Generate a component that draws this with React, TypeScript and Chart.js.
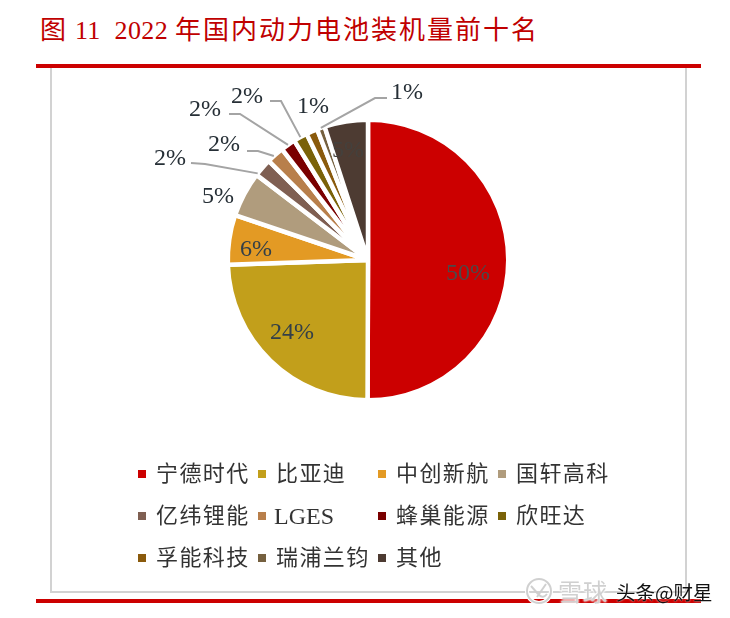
import React, { useEffect, useRef } from "react";
import { Chart, registerables } from "chart.js";

Chart.register(...registerables);

const titleLead = "图";
const titleNumbers = " 11  2022 ";
const titleRest = "年国内动力电池装机量前十名";
const categories = ["宁德时代", "比亚迪", "中创新航", "国轩高科", "亿纬锂能", "LGES", "蜂巢能源", "欣旺达", "孚能科技", "瑞浦兰钧", "其他"];
const shares = [50.0, 24.4, 5.7, 5.2, 2.1, 2.0, 1.7, 1.6, 1.3, 0.9, 5.0];
const colors = ["#cc0000", "#c29f1b", "#e39a24", "#b09c7d", "#7f5f52", "#b87f4b", "#7a0000", "#7a6208", "#8a5a0c", "#75603f", "#4d3b32"];

// label anchor offsets from the pie centre
const labelDx = [100, -76, -112, -150, -198, -144, -163, -121, -55, 39, -20];
const labelDy = [13, 72, -11, -64, -102, -116, -151, -164, -154, -168, -110];
// leader lines: start and elbow offsets from the pie centre (null = none)
const leaders: (null | number[])[] = [null, null, null, null,
  [-177, -97, -163, -96], [-121, -109, -110, -109], [-139, -146, -128, -146], [-98, -159, -87, -159], null, [19, -162, 7, -162], null];
// where along its slice each leader line lands (0 = start edge, 1 = end edge)
const leaderAnchor = [0, 0, 0, 0, 0.1, 0.4, 0.5, 0.5, 0, 0.5, 0];

const serif = '"Liberation Serif", "Noto Sans CJK SC", serif';
const sans = '"Noto Sans CJK SC", sans-serif';

const pieLabels = {
  id: "pieLabels",
  afterDatasetsDraw(chart: any) {
    const { ctx } = chart;
    const arcs = chart.getDatasetMeta(0).data;
    ctx.save();
    arcs.forEach((arc: any, i: number) => {
      const { x, y, startAngle, endAngle, outerRadius } = arc.getProps(["x", "y", "startAngle", "endAngle", "outerRadius"], true);
      const leader = leaders[i];
      if (leader) {
        const a = startAngle + (endAngle - startAngle) * leaderAnchor[i];
        const r = outerRadius;
        ctx.beginPath();
        ctx.strokeStyle = "#a4a4a4";
        ctx.lineWidth = 2;
        ctx.moveTo(x + leader[0], y + leader[1]);
        ctx.lineTo(x + leader[2], y + leader[3]);
        ctx.lineTo(x + Math.cos(a) * r, y + Math.sin(a) * r);
        ctx.stroke();
      }
      ctx.font = `24px ${serif}`;
      ctx.fillStyle = i === 0 ? "#4a4a4a" : i < 3 ? "#333f48" : "#262f36";
      if (i === 10) ctx.fillStyle = "#44403c";
      ctx.textAlign = "center";
      ctx.textBaseline = "middle";
      ctx.fillText(`${Math.round(shares[i])}%`, x + labelDx[i], y + labelDy[i] + 1);
    });
    ctx.restore();
  },
};

const abs = (s: React.CSSProperties): React.CSSProperties => ({ position: "absolute", ...s });

export default function App() {
  const ref = useRef<HTMLCanvasElement>(null);
  useEffect(() => {
    const chart = new Chart(ref.current!, {
      type: "pie",
      data: {
        labels: categories,
        datasets: [{ data: shares, backgroundColor: colors, borderColor: "#ffffff", borderWidth: 4.5, borderAlign: "center" as const }],
      },
      options: {
        animation: false,
        responsive: false,
        devicePixelRatio: 1,
        layout: { padding: { left: 225.5, right: 219.5, top: 117.5, bottom: 215.5 } },
        plugins: { legend: { display: false }, tooltip: { enabled: false } },
      },
      plugins: [pieLabels],
    });
    return () => chart.destroy();
  }, []);

  return (
    <div style={abs({ left: 0, top: 0, width: 730, height: 618, background: "#fff", overflow: "hidden", fontFamily: serif })}>
      <div style={abs({ left: 50, top: 68, width: 633, height: 523, border: "2px solid #d2d2d2", borderTop: "none" })} />
      <div style={abs({ left: 36, top: 64, width: 665, height: 4, background: "#cc0000" })} />
      <div style={abs({ left: 36, top: 599, width: 665, height: 4, background: "#cc0000" })} />
      <div style={abs({ left: 40, top: 15, fontSize: 26, lineHeight: "32px", color: "#c00000", whiteSpace: "pre" })}>
        <span style={{ letterSpacing: 2 }}>{titleLead}</span>
        <span style={{ letterSpacing: 0.4 }}>{titleNumbers}</span>
        <span style={{ letterSpacing: 2 }}>{titleRest}</span>
      </div>
      <canvas ref={ref} width={730} height={618} style={abs({ left: 0, top: 0 })} />
      {categories.map((name, i) => {
        const col = i % 4;
        const row = Math.floor(i / 4);
        const latin = /^[A-Z]+$/.test(name);
        return (
          <React.Fragment key={name}>
            <div style={abs({ left: 138 + col * 120, top: 470 + row * 42, width: 8, height: 8, background: colors[i] })} />
            <div style={abs({ left: (latin ? 154 : 156) + col * 120, top: 459 + row * 42, fontSize: latin ? 24 : 22, lineHeight: "30px", letterSpacing: latin ? 0 : 1.4, color: "#333", whiteSpace: "pre" })}>{name}</div>
          </React.Fragment>
        );
      })}
      <svg width="28" height="28" style={abs({ left: 525, top: 577 })} fill="none" stroke="rgba(205,205,205,0.95)" strokeWidth="2">
        <circle cx="14" cy="14" r="12" stroke="#ffffff" strokeWidth="4" />
        <circle cx="14" cy="14" r="12" />
        <path d="M6 9 L14 18 M21 7 L12 20 M14 18 Q18 22 22 17" />
      </svg>
      <div style={abs({ left: 558, top: 577, fontSize: 24, lineHeight: "28px", letterSpacing: 1, color: "rgba(205,205,205,0.95)", fontFamily: sans, textShadow: "0 0 2px #fff, 0 0 2px #fff, 0 0 3px #fff" })}>雪球</div>
      <div style={abs({ left: 616, top: 580, fontSize: 19.5, lineHeight: "24px", color: "#111", fontFamily: sans, whiteSpace: "pre", textShadow: "0 0 2px #fff" })}>头条@财星</div>
    </div>
  );
}
